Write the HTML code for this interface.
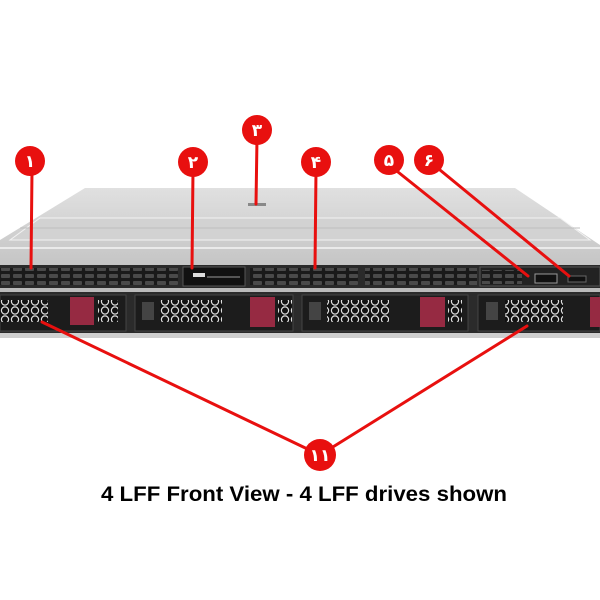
<!DOCTYPE html>
<html><head><meta charset="utf-8"><style>
html,body{margin:0;padding:0;background:#fff;width:600px;height:600px;overflow:hidden}
</style></head><body>
<svg width="600" height="600" viewBox="0 0 600 600" xmlns="http://www.w3.org/2000/svg">
<defs>
<linearGradient id="top" x1="0" y1="0" x2="0" y2="1">
<stop offset="0" stop-color="#e0e0e0"/><stop offset="1" stop-color="#c4c4c4"/>
</linearGradient>
<pattern id="vent" width="12" height="7" patternUnits="userSpaceOnUse">
<rect width="12" height="7" fill="#1a1a1a"/><rect x="1" y="1" width="9" height="4" rx="1" fill="#4a4a4a"/>
</pattern>
<pattern id="hex" width="10" height="9" patternUnits="userSpaceOnUse">
<rect width="10" height="9" fill="#111"/><circle cx="5" cy="4.5" r="3.6" fill="none" stroke="#ddd" stroke-width="1.2"/>
</pattern>
</defs>
<polygon points="85,188 515,188 600,245 600,268 0,268 0,240" fill="url(#top)"/>
<polygon points="40,218 560,218 590,240 10,240" fill="#d2d2d2" stroke="#f2f2f2" stroke-width="1"/>
<line x1="0" y1="248" x2="600" y2="248" stroke="#f4f4f4" stroke-width="1.5"/>
<line x1="20" y1="228" x2="580" y2="228" stroke="#bdbdbd" stroke-width="1"/>
<rect x="248" y="203" width="18" height="3" fill="#888"/>
<rect x="0" y="265" width="600" height="23" fill="#2a2a2a"/>
<rect x="0" y="268" width="178" height="17" fill="url(#vent)"/>
<rect x="183" y="267" width="62" height="19" fill="#111" stroke="#555"/>
<rect x="193" y="273" width="12" height="4" fill="#ddd"/>
<rect x="207" y="276" width="33" height="2" fill="#555"/>
<rect x="250" y="268" width="108" height="17" fill="url(#vent)"/>
<rect x="365" y="268" width="112" height="17" fill="url(#vent)"/>
<rect x="480" y="267" width="120" height="19" fill="#222" stroke="#555"/>
<rect x="482" y="270" width="40" height="14" fill="url(#vent)"/>
<rect x="535" y="274" width="22" height="9" fill="#111" stroke="#999"/>
<rect x="568" y="276" width="18" height="6" fill="#111" stroke="#666"/>
<rect x="0" y="288" width="600" height="4" fill="#bbb"/>
<rect x="0" y="292" width="600" height="42" fill="#2b2b2b"/>
<rect x="0" y="333" width="600" height="5" fill="#cfcfcf"/>
<g>
<rect x="0" y="295" width="126" height="36" fill="#1c1c1c" stroke="#444"/>
<rect x="0" y="300" width="48" height="22" fill="url(#hex)"/>
<rect x="70" y="297" width="24" height="28" fill="#962a42"/>
<rect x="98" y="300" width="20" height="22" fill="url(#hex)"/>
</g>
<g>
<rect x="135" y="295" width="158" height="36" fill="#1c1c1c" stroke="#444"/>
<rect x="142" y="302" width="12" height="18" fill="#444"/>
<rect x="160" y="300" width="62" height="22" fill="url(#hex)"/>
<rect x="250" y="297" width="25" height="30" fill="#962a42"/>
<rect x="278" y="300" width="14" height="22" fill="url(#hex)"/>
</g>
<g>
<rect x="302" y="295" width="166" height="36" fill="#1c1c1c" stroke="#444"/>
<rect x="309" y="302" width="12" height="18" fill="#444"/>
<rect x="327" y="300" width="62" height="22" fill="url(#hex)"/>
<rect x="420" y="297" width="25" height="30" fill="#962a42"/>
<rect x="448" y="300" width="14" height="22" fill="url(#hex)"/>
</g>
<g>
<rect x="478" y="295" width="122" height="36" fill="#1c1c1c" stroke="#444"/>
<rect x="486" y="302" width="12" height="18" fill="#444"/>
<rect x="505" y="300" width="58" height="22" fill="url(#hex)"/>
<rect x="590" y="297" width="10" height="30" fill="#962a42"/>
</g>
<g stroke="#e8100f" stroke-width="3" stroke-linecap="round" fill="none">
<line x1="32" y1="170" x2="31" y2="268"/>
<line x1="193" y1="170" x2="192" y2="268"/>
<line x1="257" y1="138" x2="256" y2="204"/>
<line x1="316" y1="170" x2="315" y2="268"/>
<line x1="398" y1="172" x2="528" y2="276"/>
<line x1="440" y1="170" x2="569" y2="276"/>
<line x1="320" y1="455" x2="42" y2="322"/>
<line x1="320" y1="455" x2="527" y2="326"/>
</g>
<g fill="#e8100f">
<circle cx="30" cy="161" r="15"/>
<circle cx="193" cy="162" r="15"/>
<circle cx="257" cy="130" r="15"/>
<circle cx="316" cy="162" r="15"/>
<circle cx="389" cy="160" r="15"/>
<circle cx="429" cy="160" r="15"/>
<circle cx="320" cy="455" r="16"/>
</g>
<g fill="#fff" font-family="'Liberation Sans','DejaVu Sans',sans-serif" font-weight="bold" font-size="17" text-anchor="middle">
<text x="30" y="167">١</text>
<text x="193" y="168">٢</text>
<text x="257" y="136">٣</text>
<text x="316" y="168">۴</text>
<text x="389" y="166">۵</text>
<text x="429" y="166">۶</text>
<text x="320" y="461">١١</text>
</g>
<text x="101" y="501" textLength="406" lengthAdjust="spacingAndGlyphs" font-family="'Liberation Sans',sans-serif" font-weight="bold" font-size="21" fill="#000">4 LFF Front View - 4 LFF drives shown</text>
</svg>
</body></html>
